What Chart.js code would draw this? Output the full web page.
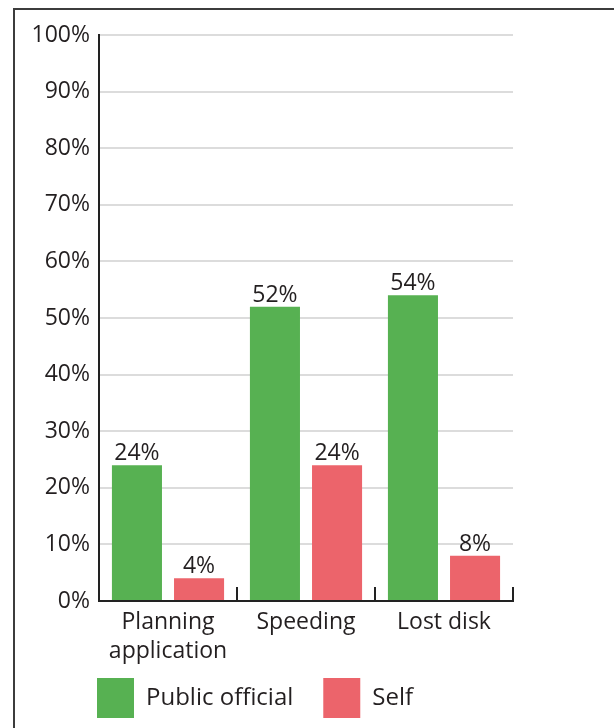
<!DOCTYPE html>
<html>
<head>
<meta charset="utf-8">
<title>Who was at fault</title>
<script src="https://cdn.jsdelivr.net/npm/chart.js@4.4.1/dist/chart.umd.min.js"></script>
<style>
    html, body {
        margin: 0;
        padding: 0;
        background: #fff;
        overflow: hidden;
    }
    .frame {
        position: absolute;
        left: 13px;
        top: 8px;
        width: 700px;
        height: 800px;
        border: 2px solid #3c3c3c;
    }
    #chart {
        position: absolute;
        left: 0;
        top: 0;
    }
</style>
</head>
<body>
<div class="frame"></div>
<canvas id="chart" width="614" height="728"></canvas>
<script>
// Data
const categories = [['Planning', 'application'], 'Speeding', 'Lost disk'];
const seriesNames = ['Public official', 'Self'];
const publicOfficial = [24, 52, 54];
const self = [4, 24, 8];
const yTickValues = [0, 10, 20, 30, 40, 50, 60, 70, 80, 90, 100];

const GREEN = '#57b152';
const RED = '#ec646b';
const INK = '#231f20';
const FONT = '"Open Sans", "Noto Sans", sans-serif';

// Value labels above each bar
const barValueLabels = {
    id: 'barValueLabels',
    afterDatasetsDraw(chart) {
        const ctx = chart.ctx;
        ctx.save();
        ctx.font = '23px ' + FONT;
        ctx.fillStyle = INK;
        ctx.textAlign = 'center';
        ctx.textBaseline = 'alphabetic';
        chart.data.datasets.forEach((ds, di) => {
            chart.getDatasetMeta(di).data.forEach((bar, i) => {
                ctx.fillText(ds.data[i] + '%', bar.x, bar.y - 5);
            });
        });
        ctx.restore();
    }
};

// Legend sits a little left of the plot area; the two-line category
// labels need room below the x scale box so they are not clipped
const layoutTweaks = {
    id: 'layoutTweaks',
    afterLayout(chart) {
        chart.legend.left -= 32;
        chart.legend.right -= 32;
        chart.scales.x.bottom += 30;
    }
};

new Chart(document.getElementById('chart'), {
    type: 'bar',
    data: {
        labels: categories,
        datasets: [{
            label: seriesNames[0],
            data: publicOfficial,
            backgroundColor: GREEN
        }, {
            label: seriesNames[1],
            data: self,
            backgroundColor: RED
        }]
    },
    options: {
        responsive: false,
        animation: false,
        categoryPercentage: 0.9,
        barPercentage: 0.806,
        layout: {
            padding: { top: 35, right: 101, bottom: 0, left: 0 }
        },
        plugins: {
            legend: {
                position: 'bottom',
                align: 'start',
                fullSize: false,
                labels: {
                    boxWidth: 37,
                    boxHeight: 40,
                    padding: 30,
                    color: INK,
                    font: { family: FONT, size: 24 }
                }
            },
            tooltip: { enabled: false }
        },
        scales: {
            x: {
                grid: {
                    drawOnChartArea: false,
                    drawTicks: true,
                    tickLength: -14,
                    lineWidth: 2,
                    color: '#222'
                },
                border: { color: '#222', width: 2 },
                ticks: {
                    padding: 21,
                    color: INK,
                    font: { family: FONT, size: 23, lineHeight: 1.25 }
                },
                afterFit(scale) {
                    scale.height = 47;
                }
            },
            y: {
                min: 0,
                max: 100,
                afterBuildTicks(scale) {
                    scale.ticks = yTickValues.map(v => ({ value: v }));
                },
                grid: {
                    drawTicks: false,
                    color: '#dcdcdc',
                    lineWidth: 2
                },
                border: { color: '#222', width: 2 },
                ticks: {
                    padding: 9,
                    color: INK,
                    font: { family: FONT, size: 23 },
                    callback: v => v + '%'
                },
                afterFit(scale) {
                    scale.width = 99;
                }
            }
        }
    },
    plugins: [barValueLabels, layoutTweaks]
});
</script>
</body>
</html>
